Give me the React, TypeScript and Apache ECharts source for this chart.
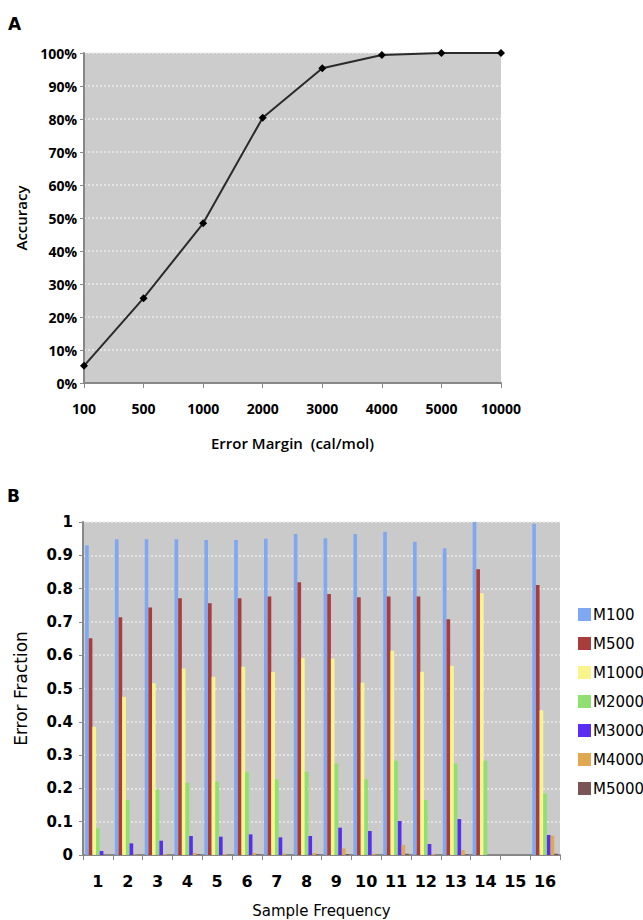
import React, { useEffect, useRef } from "react";
import * as echarts from "echarts";

const marginCats = ["100", "500", "1000", "2000", "3000", "4000", "5000", "10000"];
const accuracy = [5.2, 25.7, 48.4, 80.4, 95.4, 99.4, 100, 100];

const freqCats = ["1", "2", "3", "4", "5", "6", "7", "8", "9", "10", "11", "12", "13", "14", "15", "16"];
const m100 = [0.93, 0.948, 0.948, 0.948, 0.946, 0.946, 0.95, 0.964, 0.951, 0.964, 0.971, 0.941, 0.921, 1.0, 0, 0.995];
const m500 = [0.651, 0.714, 0.743, 0.771, 0.756, 0.771, 0.776, 0.819, 0.784, 0.774, 0.776, 0.776, 0.708, 0.858, 0, 0.811];
const m1000 = [0.385, 0.475, 0.516, 0.56, 0.535, 0.565, 0.55, 0.592, 0.59, 0.517, 0.613, 0.55, 0.568, 0.786, 0, 0.435];
const m2000 = [0.08, 0.165, 0.197, 0.217, 0.22, 0.25, 0.227, 0.25, 0.275, 0.227, 0.283, 0.165, 0.275, 0.283, 0, 0.185];
const m3000 = [0.012, 0.035, 0.043, 0.057, 0.055, 0.062, 0.053, 0.057, 0.082, 0.072, 0.102, 0.033, 0.108, 0, 0, 0.06];
const m4000 = [0, 0.002, 0.003, 0.006, 0.003, 0.006, 0.004, 0.006, 0.02, 0.004, 0.03, 0.003, 0.015, 0, 0, 0.058];
const m5000 = [0, 0, 0, 0.002, 0, 0.002, 0, 0.002, 0.003, 0, 0.004, 0, 0.002, 0, 0, 0.004];

const seriesNames = ["M100", "M500", "M1000", "M2000", "M3000", "M4000", "M5000"];
const seriesData = [m100, m500, m1000, m2000, m3000, m4000, m5000];
const seriesColors = ["#80a8f0", "#a83d3b", "#faf48c", "#8fe070", "#5a2ef2", "#e0a852", "#7b5555"];

export default function App() {
  const ref = useRef<HTMLDivElement>(null);
  useEffect(() => {
    document.body.style.margin = "0";
    const chart = echarts.init(ref.current!, null, { renderer: "svg" });
    const fontA = "Open Sans";
    const fontB = "DejaVu Sans";
    const gridLine = { show: true, lineStyle: { color: "#ececec", type: [2, 2] as any, width: 1.5 } };
    chart.setOption({
      animation: false,
      backgroundColor: "#ffffff",
      graphic: [
        { type: "text", left: 8, top: 15, style: { text: "A", font: "bold 17px 'DejaVu Sans'", fill: "#000" } },
        { type: "text", left: 7, top: 487, style: { text: "B", font: "bold 17px 'DejaVu Sans'", fill: "#000" } },
      ],
      grid: [
        { left: 84, top: 53, width: 417, height: 330, show: true, backgroundColor: "#cccccc", borderWidth: 0 },
        { left: 83, top: 522, width: 477, height: 333, show: true, backgroundColor: "#cacaca", borderWidth: 0 },
      ],
      legend: {
        orient: "vertical",
        left: 573,
        top: 602,
        itemWidth: 13,
        itemHeight: 13,
        itemGap: 14,
        icon: "rect",
        data: seriesNames,
        textStyle: { fontFamily: fontB, fontSize: 15, color: "#000", padding: [0, 0, 0, -3] },
      },
      xAxis: [
        {
          gridIndex: 0,
          type: "category",
          data: marginCats,
          boundaryGap: false,
          axisLine: { lineStyle: { color: "#888", width: 2 } },
          axisTick: { show: true, length: 5, lineStyle: { color: "#888" } },
          axisLabel: { fontFamily: fontA, fontSize: 14, fontWeight: "bold", color: "#000", margin: 18 },
          name: "Error Margin  (cal/mol)",
          nameLocation: "middle",
          nameGap: 52,
          nameTextStyle: { fontFamily: fontA, fontSize: 15, fontWeight: 600, color: "#000" },
          splitLine: { show: false },
        },
        {
          gridIndex: 1,
          type: "category",
          data: freqCats,
          axisLine: { lineStyle: { color: "#888", width: 2 } },
          axisTick: { show: true, length: 5, lineStyle: { color: "#888" } },
          axisLabel: { fontFamily: fontB, fontSize: 16, fontWeight: "bold", color: "#000", margin: 18 },
          name: "Sample Frequency",
          nameLocation: "middle",
          nameGap: 48,
          nameTextStyle: { fontFamily: fontB, fontSize: 15, color: "#000" },
          splitLine: { show: false },
        },
      ],
      yAxis: [
        {
          gridIndex: 0,
          type: "value",
          min: 0,
          max: 100,
          interval: 10,
          axisLine: { show: true, lineStyle: { color: "#888", width: 2 } },
          axisTick: { show: true, length: 4, lineStyle: { color: "#888" } },
          axisLabel: { fontFamily: fontA, fontSize: 14, fontWeight: "bold", color: "#000", formatter: "{value}%", margin: 7 },
          name: "Accuracy",
          nameLocation: "middle",
          nameGap: 56,
          nameRotate: 90,
          nameTextStyle: { fontFamily: fontA, fontSize: 15, fontWeight: 600, color: "#000" },
          splitLine: gridLine,
        },
        {
          gridIndex: 1,
          type: "value",
          min: 0,
          max: 1,
          interval: 0.1,
          axisLine: { show: true, lineStyle: { color: "#888", width: 2 } },
          axisTick: { show: true, length: 4, lineStyle: { color: "#888" } },
          axisLabel: { fontFamily: fontB, fontSize: 15, fontWeight: "bold", color: "#000", margin: 10 },
          name: "Error Fraction",
          nameLocation: "middle",
          nameGap: 54,
          nameRotate: 90,
          nameTextStyle: { fontFamily: fontB, fontSize: 17, color: "#000" },
          splitLine: gridLine,
        },
      ],
      series: [
        {
          type: "line",
          xAxisIndex: 0,
          yAxisIndex: 0,
          data: accuracy,
          symbol: "diamond",
          symbolSize: 8,
          lineStyle: { color: "#2a2a2a", width: 2 },
          itemStyle: { color: "#000" },
        },
        ...seriesNames.map((n, i) => ({
          type: "bar",
          name: n,
          xAxisIndex: 1,
          yAxisIndex: 1,
          data: seriesData[i],
          barGap: "0%",
          barCategoryGap: "14%",
          itemStyle: { color: seriesColors[i] },
        })),
      ],
    });
    return () => chart.dispose();
  }, []);
  return <div ref={ref} style={{ width: 643, height: 920 }} />;
}
